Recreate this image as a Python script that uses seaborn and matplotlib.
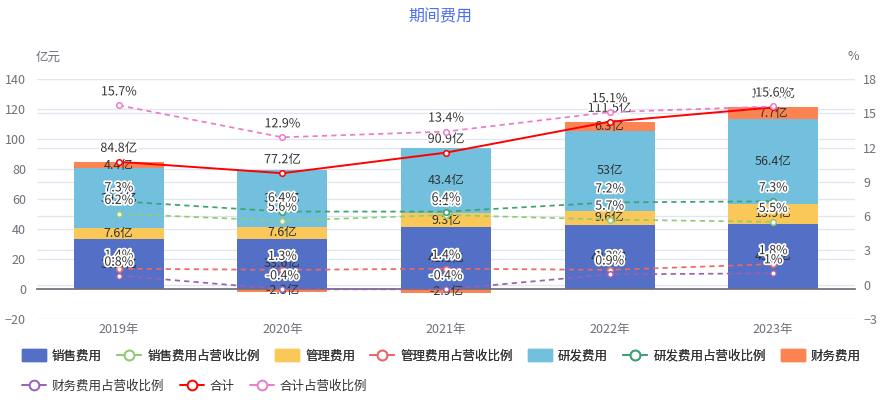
import numpy as np
import pandas as pd
import matplotlib
matplotlib.use("Agg")
import matplotlib.pyplot as plt
import matplotlib.patheffects as pe
from matplotlib.patches import Patch
from matplotlib.lines import Line2D
import seaborn as sns

# ── Data (亿元 / %) ───────────────────────────────────────────────────────────
years = ["2019年", "2020年", "2021年", "2022年", "2023年"]
sales = [33.3, 33.6, 41.1, 42.6, 43.1]
admin = [7.6, 7.6, 9.3, 9.6, 13.9]
rnd = [39.5, 38.3, 43.4, 53.0, 56.4]
finance = [4.4, -2.3, -2.9, 6.3, 7.7]
total = [84.8, 77.2, 90.9, 111.5, 121.1]

sales_pct = [6.2, 5.6, 6.1, 5.7, 5.5]
admin_pct = [1.4, 1.3, 1.4, 1.3, 1.8]
rnd_pct = [7.3, 6.4, 6.4, 7.2, 7.3]
finance_pct = [0.8, -0.4, -0.4, 0.9, 1.0]
total_pct = [15.7, 12.9, 13.4, 15.1, 15.6]

# ── Style ────────────────────────────────────────────────────────────────────
sns.set_theme(style="white")
plt.rcParams["font.family"] = ["Noto Sans CJK SC", "DejaVu Sans"]

C_SALES, C_SALES_P = "#5470c6", "#91cc75"
C_ADMIN, C_ADMIN_P = "#fac858", "#ee6666"
C_RND, C_RND_P = "#73c0de", "#3ba272"
C_FIN, C_FIN_P = "#fc8452", "#9a60b4"
C_TOTAL, C_TOTAL_P = "#ff0000", "#ea7ccc"
GRID = "#e0e6f1"
AXIS = "#6e7079"
TXT = "#333333"

fig = plt.figure(figsize=(8.8, 4), dpi=100)
ax = fig.add_axes([37 / 880, 1 - 319 / 400, (855 - 37) / 880, 240 / 400])
ax2 = ax.twinx()

x = np.arange(len(years))
width = 0.55

# ── Stacked bars (positive and negative stacks kept apart) ───────────────────
pos_bottom = np.zeros(len(years))
neg_bottom = np.zeros(len(years))
segments = []
for vals, color in [(sales, C_SALES), (admin, C_ADMIN), (rnd, C_RND), (finance, C_FIN)]:
    vals = np.array(vals, dtype=float)
    bottom = np.where(vals >= 0, pos_bottom, neg_bottom)
    ax.bar(x, vals, width, bottom=bottom, color=color, zorder=2, linewidth=0)
    segments.append((vals, bottom))
    pos_bottom = pos_bottom + np.where(vals >= 0, vals, 0)
    neg_bottom = neg_bottom + np.where(vals < 0, vals, 0)

for vals, bottom in segments:
    for xi, v, b in zip(x, vals, bottom):
        ax.text(xi, b + v / 2, f"{v:g}亿", ha="center", va="center",
                fontsize=9, color=TXT, zorder=5)

# ── Axes ranges / grids ──────────────────────────────────────────────────────
ax.set_ylim(-20, 140)
ax2.set_ylim(-3, 18)
ax.set_yticks(np.arange(-20, 141, 20))
ax2.set_yticks(np.arange(-3, 19, 3))
ax.set_xlim(-0.5, len(years) - 0.5)

for yv in np.arange(-20, 141, 20):
    if yv != 0:
        ax.axhline(yv, color=GRID, lw=0.9, zorder=0)
for rv in np.arange(-3, 19, 3):
    ax.axhline(-20 + (rv + 3) / 21 * 160, color=GRID, lw=0.9, zorder=0)

for a in (ax, ax2):
    for s in a.spines.values():
        s.set_visible(False)
    a.grid(False)
ax.spines["bottom"].set_visible(True)
ax.spines["bottom"].set_position(("data", 0))
ax.spines["bottom"].set_color(AXIS)
ax.spines["bottom"].set_zorder(3)

ax.set_xticks(x)
ax.set_xticklabels(years)
ax.tick_params(axis="x", direction="out", length=3.6, width=0.8, color=AXIS,
               pad=21, labelsize=9, labelcolor=AXIS)
ax.tick_params(axis="y", length=0, pad=8, labelsize=9, labelcolor=AXIS)
ax2.tick_params(axis="y", length=0, pad=6, labelsize=9, labelcolor=AXIS)

# ── Lines ────────────────────────────────────────────────────────────────────
outline = [pe.withStroke(linewidth=2.5, foreground="white")]
mk = dict(marker="o", markersize=4, markerfacecolor="white", markeredgewidth=1.1)

sns.lineplot(x=x, y=total, ax=ax, color=C_TOTAL, lw=1.4, zorder=6,
             markeredgecolor=C_TOTAL, **mk)
for xi, v in zip(x, total):
    ax.annotate(f"{v:g}亿", (xi, v), xytext=(0, 5), textcoords="offset points",
                ha="center", va="bottom", fontsize=9, color=TXT, zorder=7,
                path_effects=outline)

ratio_series = [
    (sales_pct, C_SALES_P),
    (admin_pct, C_ADMIN_P),
    (rnd_pct, C_RND_P),
    (finance_pct, C_FIN_P),
    (total_pct, C_TOTAL_P),
]
for vals, color in ratio_series:
    sns.lineplot(x=x, y=vals, ax=ax2, color=color, lw=1.25, dashes=False,
                 markeredgecolor=color, **mk).lines[-1].set_dashes((3, 2.4))
    for xi, v in zip(x, vals):
        ax2.annotate(f"{v:g}%", (xi, v), xytext=(0, 5), textcoords="offset points",
                     ha="center", va="bottom", fontsize=9, color=TXT, zorder=7,
                     path_effects=outline)

# ── Titles ───────────────────────────────────────────────────────────────────
fig.text(0.5, 1 - 17 / 400, "期间费用", ha="center", va="center",
         fontsize=11.5, color="#4e6ef2")
fig.text(48 / 880, 1 - 57 / 400, "亿元", ha="center", va="center", fontsize=9, color=AXIS)
fig.text(853 / 880, 1 - 57 / 400, "%", ha="center", va="center", fontsize=9, color=AXIS)

# ── Legend (two rows, left packed) ───────────────────────────────────────────
def bar_h(c):
    return Patch(facecolor=c, edgecolor=c)

def line_h(c):
    return Line2D([0], [0], color=c, lw=1.4, marker="o", markersize=7,
                  markerfacecolor="white", markeredgewidth=1.4, markeredgecolor=c)

row1 = [
    (bar_h(C_SALES), "销售费用"), (line_h(C_SALES_P), "销售费用占营收比例"),
    (bar_h(C_ADMIN), "管理费用"), (line_h(C_ADMIN_P), "管理费用占营收比例"),
    (bar_h(C_RND), "研发费用"), (line_h(C_RND_P), "研发费用占营收比例"),
    (bar_h(C_FIN), "财务费用"),
]
row2 = [
    (line_h(C_FIN_P), "财务费用占营收比例"), (line_h(C_TOTAL), "合计"),
    (line_h(C_TOTAL_P), "合计占营收比例"),
]
leg_kw = dict(loc="center left", frameon=False, fontsize=9, handlelength=1.9,
              handleheight=1.1, handletextpad=0.5, columnspacing=1.22,
              borderaxespad=0, borderpad=0, labelcolor=TXT)
leg1 = fig.legend([h for h, _ in row1], [t for _, t in row1], ncol=7,
                  bbox_to_anchor=(22 / 880, 1 - 356 / 400), **leg_kw)
fig.legend([h for h, _ in row2], [t for _, t in row2], ncol=3,
           bbox_to_anchor=(22 / 880, 1 - 386 / 400), **leg_kw)
fig.add_artist(leg1)

fig.savefig("out.png", dpi=100)
plt.close(fig)
